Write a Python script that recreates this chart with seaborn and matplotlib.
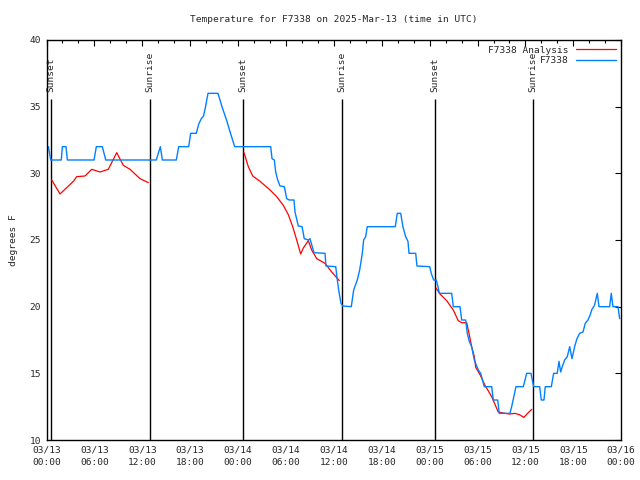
import numpy as np
import pandas as pd
import matplotlib
matplotlib.use("Agg")
from matplotlib import pyplot as plt
import matplotlib.dates as mdates
import seaborn as sns

# ---- data (hours after 2025-03-13 00:00 UTC, deg F)
start = pd.Timestamp("2025-03-13 00:00")

obs_hours = [0.23, 0.53, 1.85, 1.98, 2.44, 2.61, 5.95, 6.24, 6.99, 7.42,
             13.75, 14.26, 14.51, 16.26, 16.56, 17.81, 18.06, 18.76, 19.07, 19.39,
             19.67, 19.89, 20.23, 21.48, 21.98, 22.55, 23.05, 23.57, 28.08, 28.25,
             28.54, 28.71, 28.96, 29.25, 29.79, 30.09, 30.41, 31.0, 31.13, 31.54,
             32.01, 32.29, 32.79, 33.0, 33.51, 34.89, 35.01, 36.23, 36.43, 36.64,
             36.89, 37.1, 38.18, 38.48, 38.93, 39.23, 39.56, 39.73, 39.98, 40.18,
             43.69, 43.94, 44.37, 44.65, 44.99, 45.28, 45.41, 46.25, 46.41, 48.0,
             48.2, 48.5, 48.83, 49.08, 49.2, 50.76, 50.96, 51.8, 52.01, 52.51,
             52.71, 52.96, 53.26, 53.59, 54.09, 54.39, 54.84, 55.77, 55.97, 56.52,
             56.72, 58.06, 58.27, 58.81, 59.73, 60.15, 60.69, 61.03, 61.78, 61.98,
             62.32, 62.48, 63.24, 63.53, 63.98, 64.2, 64.41, 64.61, 64.91, 65.24,
             65.54, 65.83, 66.16, 66.45, 66.79, 67.21, 67.49, 67.83, 68.12, 68.33,
             68.65, 69.0, 69.21, 70.55, 70.75, 70.96, 71.59, 71.8]
obs_temp = [32, 31, 31, 32, 32, 31, 31, 32, 32, 31,
            31, 32, 31, 31, 32, 32, 33, 33, 33.7, 34.1,
            34.3, 34.9, 36, 36, 35, 34, 33, 32, 32, 31.1,
            31, 30.1, 29.5, 29.05, 29, 28.1, 28, 28, 27.1, 26.05,
            26, 25.1, 25, 25.1, 24.05, 24, 23.05, 23, 22, 21.1,
            20.25, 20.05, 20, 21.25, 22, 22.75, 24, 25, 25.25, 26,
            26, 27, 27, 26, 25.25, 24.9, 24, 24, 23.05, 23,
            22.5, 22, 22, 21.4, 21, 21, 20, 20, 19, 19,
            18, 17.4, 17, 16, 15.25, 15, 14, 14, 13, 13,
            12, 12, 12.5, 14, 14, 15, 15, 14, 14, 13,
            13, 14, 14, 15, 15, 15.9, 15.1, 15.5, 16, 16.25,
            17, 16.1, 17, 17.6, 18, 18.1, 18.75, 19, 19.4, 19.8,
            20.1, 21, 20, 20, 21, 20, 20, 19.1]

ana_hours = [0.65, 1.69, 3.36, 3.78, 4.82, 5.66, 6.7, 7.74, 8.79, 9.62, 10.46, 11.71, 12.75,
             24.74, 25.28, 25.83, 26.75, 28.0, 28.84, 29.66, 30.29, 30.84, 31.34, 31.84,
             32.17, 32.8, 33.22, 33.85, 34.89, 35.73, 36.68,
             48.79, 49.29, 50.13, 50.96, 51.58, 52.01, 52.64, 52.96, 53.26, 53.59, 53.77,
             54.31, 54.93, 55.77, 56.59, 57.43, 58.06, 58.69, 59.23, 59.81, 60.35, 60.78]
ana_temp = [29.5, 28.45, 29.4, 29.75, 29.8, 30.3, 30.1, 30.3, 31.55, 30.6, 30.3, 29.6, 29.3,
            31.55, 30.5, 29.8, 29.4, 28.75, 28.25, 27.6, 26.9, 26.0, 25.0, 23.95,
            24.4, 24.95, 24.25, 23.6, 23.25, 22.6, 21.95,
            21.4, 20.95, 20.45, 19.75, 18.95, 18.8, 18.8, 17.9, 17.0, 16.25, 15.45,
            14.9, 14.1, 13.25, 12.1, 12.0, 11.95, 12.0, 11.9, 11.7, 12.05, 12.3]
ana_seg = [0] * 13 + [1] * 18 + [2] * 22

sun_hours = [0.6, 12.97, 24.64, 37.03, 48.7, 60.98]
sun_names = ["Sunset", "Sunrise", "Sunset", "Sunrise", "Sunset", "Sunrise"]

obs = pd.DataFrame({"time": start + pd.to_timedelta(obs_hours, unit="h"), "temp": obs_temp})
ana = pd.DataFrame({"time": start + pd.to_timedelta(ana_hours, unit="h"), "temp": ana_temp,
                    "seg": ana_seg})

sns.set_style("white")
plt.rcParams["font.family"] = ["DejaVu Sans Mono"]
plt.rcParams["font.size"] = 6.8

fig = plt.figure(figsize=(6.4, 4.8), dpi=100)
ax = fig.add_axes([0.0727, 0.0833, 0.898, 0.8334])

# analysis has gaps, so draw each piece on its own
for i, (seg, part) in enumerate(ana.groupby("seg")):
    sns.lineplot(data=part, x="time", y="temp", estimator=None, sort=False,
                 color="#ff0000", linewidth=0.9,
                 label="F7338 Analysis" if i == 0 else "_nolegend_", ax=ax)
sns.lineplot(data=obs, x="time", y="temp", estimator=None, sort=False,
             color="#0080ff", linewidth=1.0, label="F7338", ax=ax)

# sunrise / sunset markers
for h, name in zip(sun_hours, sun_names):
    t = start + pd.Timedelta(hours=h)
    ax.vlines(t, 10, 35.6, color="black", linewidth=1.0, zorder=1)
    ax.text(t, 36.1, name, rotation=90, ha="center", va="bottom", fontsize=6.8)

ax.set_xlim(start, start + pd.Timedelta(hours=72))
ax.set_ylim(10, 40)
ax.set_yticks(np.arange(10, 41, 5))
ax.xaxis.set_major_locator(mdates.HourLocator(byhour=range(0, 24, 6)))
ax.xaxis.set_minor_locator(mdates.HourLocator(byhour=range(0, 24, 2)))
ax.xaxis.set_major_formatter(mdates.DateFormatter("%m/%d\n%H:%M"))
ax.tick_params(which="both", direction="in", top=True, right=True, color="black",
               labelsize=6.8, width=0.8)
ax.tick_params(which="major", length=4.5, pad=4)
ax.tick_params(which="minor", length=2.2)
for lbl in ax.get_xticklabels():
    lbl.set_linespacing(1.5)
for s in ax.spines.values():
    s.set_color("black")
    s.set_linewidth(1.0)

ax.set_xlabel("")
ax.set_ylabel("degrees F", fontsize=6.8, labelpad=8)
ax.set_title("Temperature for F7338 on 2025-Mar-13 (time in UTC)", fontsize=6.8, pad=13)

ax.legend(loc="upper right", frameon=False, markerfirst=False, handlelength=4.2,
          labelspacing=0.15, borderaxespad=0.2, fontsize=6.8, handletextpad=0.8)

fig.savefig("out.png", dpi=100)
